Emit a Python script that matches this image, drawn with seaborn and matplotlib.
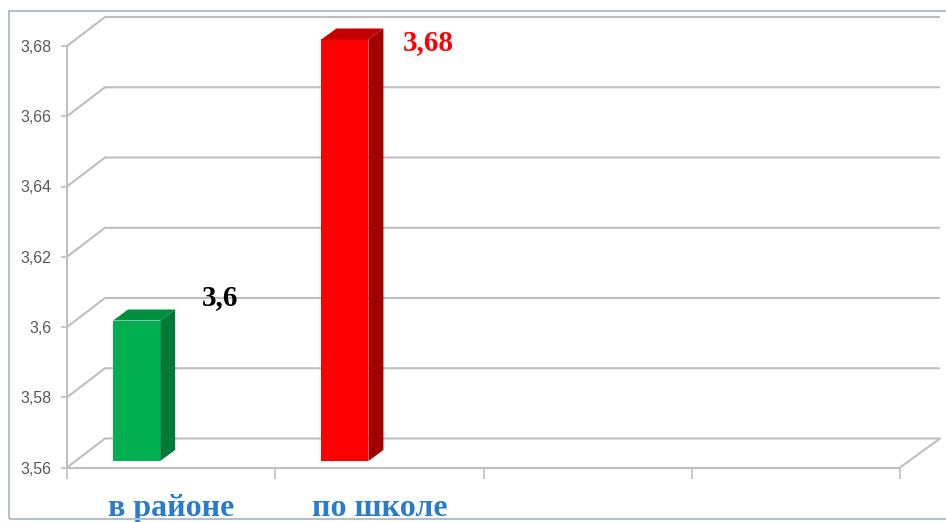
import matplotlib
matplotlib.use('Agg')
import matplotlib.pyplot as plt
import seaborn as sns
import numpy as np
import pandas as pd
from matplotlib.patches import Polygon, Rectangle
from matplotlib.transforms import blended_transform_factory

# ---- data ----
categories = ['в районе', 'по школе']
values = [3.6, 3.68]
value_labels = ['3,6', '3,68']
y_ticks = [3.56, 3.58, 3.60, 3.62, 3.64, 3.66, 3.68]
y_tick_labels = ['3,56', '3,58', '3,6', '3,62', '3,64', '3,66', '3,68']

# ---- styles ----
front_colors = ['#00B050', '#FF0000']
side_colors = ['#007A36', '#A00000']
top_colors = ['#008F40', '#C40000']
label_colors = ['#000000', '#FF0000']
grid_color = '#BFBFBF'
n_slots = 4

sns.set_style('white')
W, H = 946, 522
fig = plt.figure(figsize=(W / 100, H / 100), dpi=100)
L, R, T, B = 67, 900, 46, 467.5
ax = fig.add_axes([L / W, 1 - B / H, (R - L) / W, (B - T) / H])

df = pd.DataFrame({'cat': categories, 'val': values})
sns.barplot(data=df, x='cat', y='val', hue='cat', palette=front_colors,
            width=0.226, saturation=1, legend=False, ax=ax)

y0, y1 = y_ticks[0], y_ticks[-1]
ax.set_xlim(-0.5, n_slots - 0.5)
ax.set_ylim(y0, y1)
px_x = (R - L) / n_slots
px_y = (B - T) / (y1 - y0)


def ux(px):
    return px / px_x


def uy(px):
    return px / px_y


# back wall / floor geometry (oblique depth)
back_dx_l, back_dx_r, back_dy = ux(38), ux(40), uy(29)
for v in y_ticks:
    ax.plot([-0.5, -0.5 + back_dx_l, n_slots - 0.5 + back_dx_r],
            [v, v + back_dy, v + back_dy], color=grid_color, lw=1.5,
            clip_on=False, zorder=1, solid_capstyle='butt')
ax.plot([n_slots - 0.5, n_slots - 0.5 + back_dx_r], [y0, y0 + back_dy],
        color=grid_color, lw=1.5, clip_on=False, zorder=1)

# bars: shift front face into the depth and add side/top faces
bar_shift_x, bar_shift_y = ux(-34.5), uy(6.5)
depth_x, depth_y = ux(15), uy(11)
for i, (p, v) in enumerate(zip(ax.patches, values)):
    p.set_x(p.get_x() + bar_shift_x)
    p.set_y(y0 + bar_shift_y)
    p.set_height(v - y0)
    p.set_clip_on(False)
    p.set_zorder(3)
    p.set_edgecolor('none')
    x0, w = p.get_x(), p.get_width()
    b, t = p.get_y(), p.get_y() + p.get_height()
    side = Polygon([(x0 + w, b), (x0 + w + depth_x, b + depth_y),
                    (x0 + w + depth_x, t + depth_y), (x0 + w, t)],
                   closed=True, fc=side_colors[i], ec='none', zorder=3, clip_on=False)
    top = Polygon([(x0, t), (x0 + w, t), (x0 + w + depth_x, t + depth_y),
                   (x0 + depth_x, t + depth_y)],
                  closed=True, fc=top_colors[i], ec='none', zorder=3, clip_on=False)
    ax.add_patch(side)
    ax.add_patch(top)
    ly = min(v + uy(29), y1 + uy(3.5))
    ax.text(i + 0.234, ly, value_labels[i], ha='center', va='center',
            family='Liberation Serif', fontweight='bold', fontsize=21,
            color=label_colors[i], zorder=5, clip_on=False)

# axes styling
for s in ['top', 'right']:
    ax.spines[s].set_visible(False)
for s in ['left', 'bottom']:
    ax.spines[s].set_color(grid_color)
    ax.spines[s].set_linewidth(1.5)
    ax.spines[s].set_zorder(1)
ax.set_yticks(y_ticks)
ax.set_yticklabels(y_tick_labels)
ax.tick_params(axis='y', length=4, width=1.2, color=grid_color, pad=7,
               labelsize=11.5, labelcolor='#595959', left=True)
for lab in ax.get_yticklabels():
    lab.set_family('Liberation Sans')
ax.set_xticks(np.arange(n_slots + 1) - 0.5)
ax.set_xticklabels([''] * (n_slots + 1))
ax.tick_params(axis='x', length=8, width=1.2, color=grid_color, bottom=True)
ax.set_xlabel('')
ax.set_ylabel('')
ax.grid(False)
ax.patch.set_alpha(0)

trans = blended_transform_factory(ax.transData, fig.transFigure)
for i, c in enumerate(categories):
    ax.text(i, (H - 516) / H, c, transform=trans, ha='center', va='baseline',
            family='Liberation Serif', fontweight='bold', fontsize=23,
            color='#2A7CCB', clip_on=False)

# outer chart border
fig.add_artist(Rectangle((9 / W, 1 - 519 / H), (W + 10 - 9) / W, (519 - 11) / H,
                         transform=fig.transFigure, fill=False,
                         ec='#B6C0CC', lw=1.5, clip_on=False))

fig.savefig('out.png', dpi=100)
